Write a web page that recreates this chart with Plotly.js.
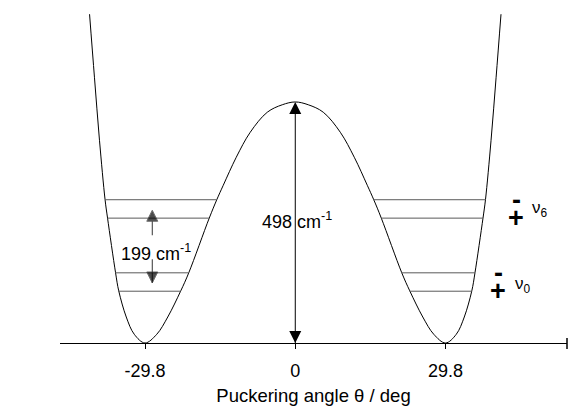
<!DOCTYPE html>
<html>
<head>
<meta charset="utf-8">
<script src="https://cdn.plot.ly/plotly-3.0.1.min.js"></script>
<style>
  html, body { margin: 0; padding: 0; background: #fff; }
  #plot { width: 569px; height: 406px; }
</style>
</head>
<body>
<div id="plot"></div>
<script>
// Double-well ring-puckering potential: angle (deg) vs energy (cm^-1)
const puckerAngle = [
  -40.80, -39.83, -38.83, -37.72, -37.23, -35.64, -35.01, -33.52, -31.93, -29.80,
  -27.47, -25.29, -22.71, -21.12, -17.06, -15.57, -14.28, -11.70, -8.93, -5.55, -2.58, 0,
  2.58, 5.55, 8.93, 11.70, 14.28, 15.57, 17.06, 21.12, 22.71, 25.29, 27.47, 29.80,
  31.93, 33.52, 35.01, 35.64, 37.23, 37.72, 38.83, 39.83, 40.80
];
const potentialEnergy = [
  679.3, 549.1, 418.9, 295.9, 258.1, 145.1, 107.7, 53.7, 18.0, 0,
  18.0, 53.7, 107.7, 145.1, 258.1, 295.9, 325.9, 383.8, 435.4, 476.8, 492.2, 498,
  492.2, 476.8, 435.4, 383.8, 325.9, 295.9, 258.1, 145.1, 107.7, 53.7, 18.0, 0,
  18.0, 53.7, 107.7, 145.1, 258.1, 295.9, 418.9, 549.1, 679.3
];

// Vibrational levels inside each well: energy and angular extent
const levelEnergy    = [296, 258, 145, 107];
const leftLevelFrom  = [-37.72, -37.23, -35.64, -35.01];
const leftLevelTo    = [-15.57, -17.06, -21.12, -22.71];
const rightLevelFrom = [15.57, 17.06, 21.12, 22.71];
const rightLevelTo   = [37.72, 37.23, 35.64, 35.01];

// Barrier height arrow (0 -> 498 cm^-1 at the planar geometry)
const barrierAngle = [0, 0];
const barrierEnergy = [0, 498];

// Level spacing arrows, pointing outward from the 199 cm^-1 label
const spacingAngle = -28.36;
const spacingUp = [222.6, 274.2];
const spacingDown = [173, 124];
const spacingValue = 199;

// Axis ticks
const tickValues = [-29.8, 0, 29.8];
const tickLabels = ["-29.8", "0", "29.8"];

const FONT = "Liberation Sans, Arial, Helvetica, sans-serif";

const traces = [{
  x: puckerAngle,
  y: potentialEnergy,
  mode: "lines",
  line: { color: "#000", width: 1, shape: "spline", smoothing: 1 },
  hoverinfo: "skip"
}];

// level lines
for (let i = 0; i < levelEnergy.length; i++) {
  traces.push({
    x: [leftLevelFrom[i], leftLevelTo[i], null, rightLevelFrom[i], rightLevelTo[i]],
    y: [levelEnergy[i], levelEnergy[i], null, levelEnergy[i], levelEnergy[i]],
    mode: "lines",
    line: { color: "#5a5a5a", width: 1 },
    hoverinfo: "skip"
  });
}

// barrier double arrow
traces.push({
  x: barrierAngle,
  y: barrierEnergy,
  mode: "lines+markers",
  line: { color: "#000", width: 1 },
  marker: { symbol: ["arrow-down", "arrow-up"], size: 12, color: "#000" },
  cliponaxis: false,
  hoverinfo: "skip"
});

// spacing arrows
traces.push({
  x: [spacingAngle, spacingAngle],
  y: spacingUp,
  mode: "lines+markers",
  line: { color: "#333", width: 1 },
  marker: { symbol: ["circle", "arrow-up"], size: [0, 11], color: "#000" },
  hoverinfo: "skip"
});
traces.push({
  x: [spacingAngle, spacingAngle],
  y: spacingDown,
  mode: "lines+markers",
  line: { color: "#333", width: 1 },
  marker: { symbol: ["circle", "arrow-down"], size: [0, 11], color: "#000" },
  hoverinfo: "skip"
});

const annotations = [
  {
    x: -7.0, y: 253.6, xref: "x", yref: "y", xanchor: "left", yanchor: "middle",
    showarrow: false, text: barrierEnergy[1] + " cm<sup>-1</sup>",
    font: { family: FONT, size: 18, color: "#000" }
  },
  {
    x: -34.92, y: 188, xref: "x", yref: "y", xanchor: "left", yanchor: "middle",
    showarrow: false, text: spacingValue + " cm<sup>-1</sup>",
    font: { family: FONT, size: 18, color: "#000" }
  },
  // parity signs and state labels
  { x: 43.87, y: 294.5, xref: "x", yref: "y", showarrow: false, text: "<b>-</b>",
    font: { family: FONT, size: 27, color: "#000" } },
  { x: 43.77, y: 258.0, xref: "x", yref: "y", showarrow: false, text: "<b>+</b>",
    font: { family: FONT, size: 27, color: "#000" } },
  { x: 46.55, y: 276.3, xref: "x", yref: "y", xanchor: "left", showarrow: false,
    text: "ν<sub>6</sub>", font: { family: FONT, size: 17, color: "#000" } },
  { x: 40.26, y: 145.5, xref: "x", yref: "y", showarrow: false, text: "<b>-</b>",
    font: { family: FONT, size: 27, color: "#000" } },
  { x: 40.18, y: 108.2, xref: "x", yref: "y", showarrow: false, text: "<b>+</b>",
    font: { family: FONT, size: 27, color: "#000" } },
  { x: 43.18, y: 119.2, xref: "x", yref: "y", xanchor: "left", showarrow: false,
    text: "ν<sub>0</sub>", font: { family: FONT, size: 17, color: "#000" } }
];

const layout = {
  width: 569,
  height: 406,
  margin: { l: 60, r: 2, t: 10, b: 63 },
  paper_bgcolor: "#fff",
  plot_bgcolor: "#fff",
  showlegend: false,
  xaxis: {
    range: [-46.66, 53.89],
    tickvals: tickValues,
    ticktext: tickLabels,
    ticks: "outside",
    ticklen: 5,
    tickwidth: 1,
    tickcolor: "#000",
    ticklabelstandoff: 6,
    showline: true,
    linecolor: "#000",
    linewidth: 1,
    showgrid: false,
    zeroline: false,
    tickfont: { family: FONT, size: 18, color: "#000" },
    title: {
      text: "Puckering angle θ / deg",
      font: { family: FONT, size: 18.5, color: "#000" },
      standoff: 9
    },
    automargin: false,
    fixedrange: true
  },
  yaxis: {
    range: [0, 688],
    visible: false,
    showgrid: false,
    zeroline: false,
    fixedrange: true
  },
  shapes: [
    // end mark of the angle axis
    { type: "line", xref: "paper", yref: "paper", x0: 1, x1: 1, y0: 0.015, y1: -0.018,
      line: { color: "#000", width: 1.5 } }
  ],
  annotations: annotations
};

Plotly.newPlot("plot", traces, layout, { displayModeBar: false, staticPlot: true });
</script>
</body>
</html>
